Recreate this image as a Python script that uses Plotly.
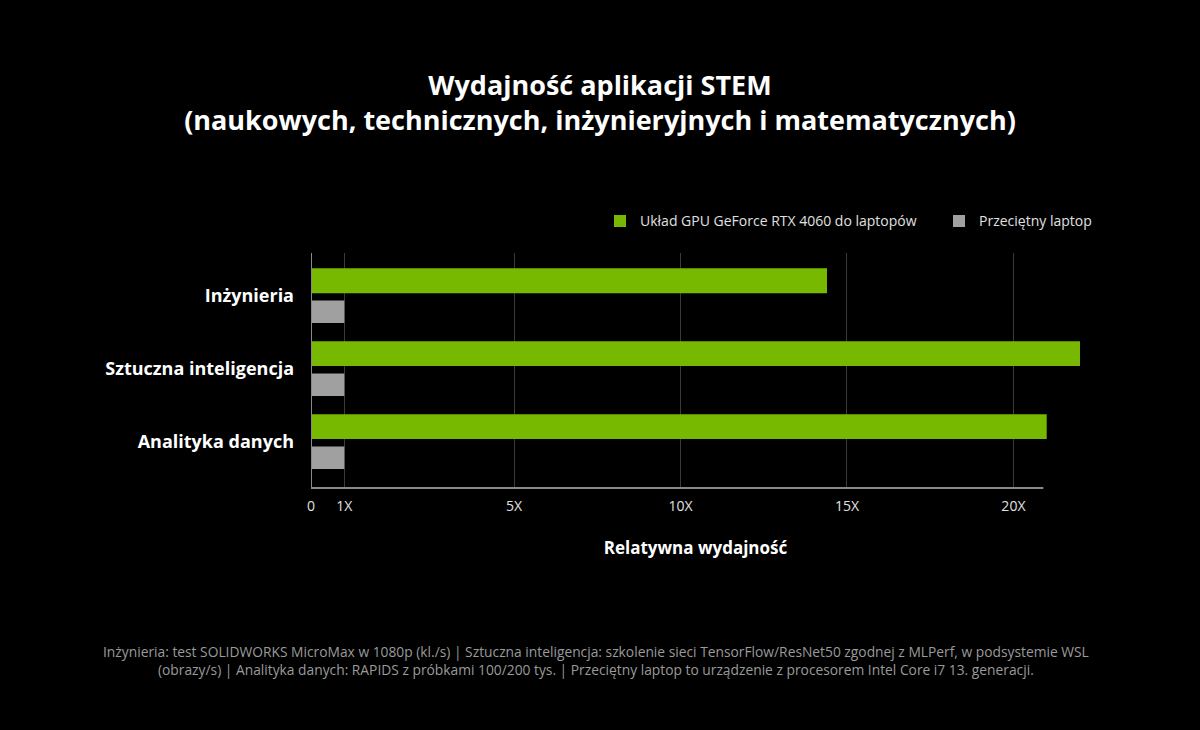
import plotly.graph_objects as go

categories = ["Inżynieria", "Sztuczna inteligencja", "Analityka danych"]
rtx_4060 = [15.5, 23.1, 22.1]
avg_laptop = [1, 1, 1]
# tick labels and where they are drawn on the (linear) value axis
tick_text = ["0", "1X", "5X", "10X", "15X", "20X"]
tick_pos = [0, 1, 6.1, 11.1, 16.1, 21.1]

FONT = "Open Sans"
ypos = list(range(len(categories)))

fig = go.Figure()
fig.add_trace(go.Bar(
    y=ypos, x=rtx_4060, orientation="h", name="Układ GPU GeForce RTX 4060 do laptopów",
    marker=dict(color="#76b900", line_width=0), width=0.34, offset=-0.38,
    legend="legend", showlegend=True,
))
fig.add_trace(go.Bar(
    y=ypos, x=avg_laptop, orientation="h", name="Przeciętny laptop",
    marker=dict(color="#a0a0a0", line_width=0), width=0.31, offset=0.06,
    legend="legend2", showlegend=True,
))

# axis lines: bottom one stops short of the longest bar
fig.add_shape(type="line", xref="x", yref="paper", x0=-0.4, x1=22.0, y0=0, y1=0,
              line=dict(color="#8a8a8a", width=2))
fig.add_shape(type="line", xref="x", yref="paper", x0=0, x1=0, y0=0, y1=1,
              line=dict(color="#8a8a8a", width=2))

legend_style = dict(
    orientation="h", xanchor="left", y=1.135, yanchor="middle",
    font=dict(size=14, color="#e0e0e0"), bgcolor="rgba(0,0,0,0)", visible=True,
)

fig.update_layout(
    width=1200, height=730,
    paper_bgcolor="black", plot_bgcolor="black",
    font=dict(family=FONT, color="white"),
    margin=dict(l=311, r=120, t=253, b=242),
    barmode="overlay",
    showlegend=True,
    title=dict(
        text="<b>Wydajność aplikacji STEM<br>(naukowych, technicznych, inżynieryjnych i matematycznych)</b>",
        x=0.5, xanchor="center", y=0.87, yanchor="middle",
        font=dict(size=27, color="white", family=FONT),
    ),
    xaxis=dict(
        range=[0, 23.1], tickvals=tick_pos, ticktext=tick_text,
        showgrid=True, gridcolor="#3a3a3a", gridwidth=1, zeroline=False,
        tickfont=dict(size=14, color="#e0e0e0"), ticks="", ticklabelstandoff=8,
        title=dict(text="<b>Relatywna wydajność</b>", font=dict(size=17, color="white"), standoff=28),
    ),
    yaxis=dict(
        range=[2.63, -0.59], tickvals=ypos, ticktext=["<b>%s</b>" % c for c in categories],
        showgrid=False, zeroline=False, ticks="", ticklabelstandoff=16,
        tickfont=dict(size=18, color="white"),
    ),
    legend=dict(x=(600 - 311) / 769, **legend_style),
    legend2=dict(x=(939 - 311) / 769, **legend_style),
    annotations=[dict(
        text="Inżynieria: test SOLIDWORKS MicroMax w 1080p (kl./s) | Sztuczna inteligencja: szkolenie sieci TensorFlow/ResNet50 zgodnej z MLPerf, w podsystemie WSL"
             "<br>(obrazy/s) | Analityka danych: RAPIDS z próbkami 100/200 tys. | Przeciętny laptop to urządzenie z procesorem Intel Core i7 13. generacji.",
        xref="paper", yref="paper", x=(596 - 311) / 769, y=(488 - 660) / 235,
        xanchor="center", yanchor="middle", showarrow=False, align="center",
        font=dict(size=13.8, color="#9a9a9a"),
    )],
)

fig.write_html(
    "out.html",
    config={"displayModeBar": False},
    post_script="document.body.style.margin='0';document.body.style.background='black';",
)
